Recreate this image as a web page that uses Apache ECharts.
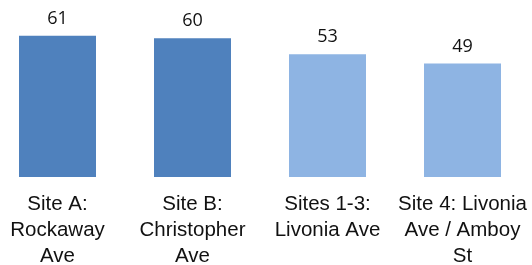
<!DOCTYPE html>
<html>
<head>
<meta charset="utf-8">
<script src="https://cdn.jsdelivr.net/npm/echarts@6/dist/echarts.min.js"></script>
<style>
html, body { margin: 0; padding: 0; background: #fff; }
#chart { width: 532px; height: 265px; }
</style>
</head>
<body>
<div id="chart"></div>
<script>
var sites = ['Site A:\nRockaway\nAve', 'Site B:\nChristopher\nAve', 'Sites 1-3:\nLivonia Ave', 'Site 4: Livonia\nAve / Amboy\nSt'];
var scores = [61, 60, 53, 49];
var barColors = ['#4f81bd', '#4f81bd', '#8eb4e3', '#8eb4e3'];

var myChart = echarts.init(document.getElementById('chart'));

var data = [];
for (var i = 0; i < scores.length; i++) {
    data.push({ value: scores[i], itemStyle: { color: barColors[i] } });
}

var option = {
    animation: false,
    grid: { left: -10, top: 15, width: 540, bottom: 88, containLabel: false, outerBoundsMode: 'none' },
    xAxis: {
        type: 'category',
        data: sites,
        axisLine: { show: false },
        axisTick: { show: false },
        axisLabel: {
            interval: 0,
            margin: 14,
            fontFamily: 'Liberation Sans',
            fontSize: 20.5,
            lineHeight: 26,
            color: '#111',
            verticalAlign: 'top'
        }
    },
    yAxis: {
        type: 'value',
        min: 0,
        max: 70,
        show: false
    },
    series: [{
        type: 'bar',
        data: data,
        barWidth: 77,
        label: {
            show: true,
            position: 'top',
            distance: 8,
            fontFamily: 'Open Sans',
            fontSize: 18,
            color: '#111'
        }
    }]
};
myChart.setOption(option);
</script>
</body>
</html>
